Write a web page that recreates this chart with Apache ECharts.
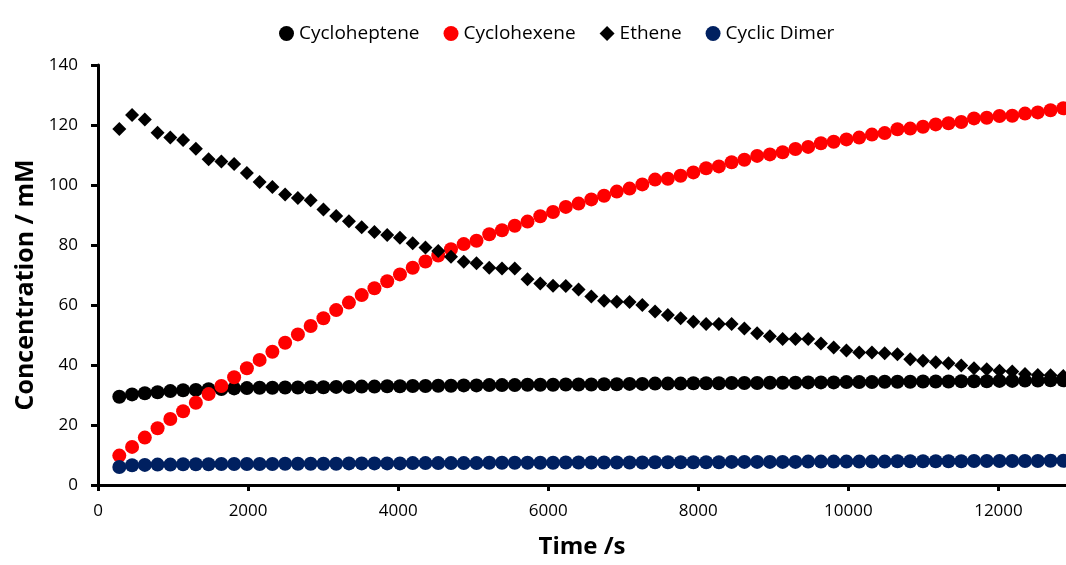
<!DOCTYPE html>
<html>
<head>
<meta charset="utf-8">
<style>
  html, body { margin: 0; padding: 0; background: #ffffff; }
  #chart { width: 1066px; height: 565px; }
</style>
<script src="https://cdn.jsdelivr.net/npm/echarts@6/dist/echarts.min.js"></script>
</head>
<body>
<div id="chart"></div>
<script>
// Sampling times (s)
const times = [284, 454, 624, 794, 964, 1134, 1304, 1474, 1644, 1814, 1984, 2154, 2324, 2494, 2664,
  2834, 3004, 3174, 3344, 3514, 3684, 3854, 4024, 4194, 4364, 4534, 4704, 4874, 5044, 5214,
  5384, 5554, 5724, 5894, 6064, 6234, 6404, 6574, 6744, 6914, 7084, 7254, 7424, 7594, 7764,
  7934, 8104, 8274, 8444, 8614, 8784, 8954, 9124, 9294, 9464, 9634, 9804, 9974, 10144, 10314,
  10484, 10654, 10824, 10994, 11164, 11334, 11504, 11674, 11844, 12014, 12184, 12354, 12524, 12694, 12864];

// Concentrations (mM)
const cycloheptene = [29.4, 30.2, 30.6, 30.9, 31.3, 31.6, 31.7, 31.9, 32.0, 32.2, 32.3, 32.4, 32.4, 32.5, 32.5,
  32.6, 32.6, 32.7, 32.7, 32.8, 32.8, 32.9, 32.9, 33.0, 33.0, 33.1, 33.1, 33.2, 33.2, 33.3,
  33.3, 33.3, 33.4, 33.4, 33.4, 33.5, 33.5, 33.5, 33.6, 33.6, 33.7, 33.7, 33.8, 33.8, 33.8,
  33.9, 33.9, 33.9, 34.0, 34.0, 34.0, 34.1, 34.1, 34.1, 34.2, 34.2, 34.2, 34.3, 34.3, 34.3,
  34.4, 34.4, 34.4, 34.5, 34.5, 34.5, 34.6, 34.6, 34.6, 34.7, 34.7, 34.8, 34.8, 34.9, 34.9];

const cyclohexene = [9.8, 12.7, 15.8, 18.9, 22.0, 24.6, 27.4, 30.3, 33.0, 35.9, 38.9, 41.7, 44.4, 47.4, 50.2,
  53.0, 55.6, 58.3, 60.8, 63.3, 65.6, 67.9, 70.2, 72.4, 74.5, 76.5, 78.6, 80.3, 81.4, 83.6,
  84.9, 86.4, 87.8, 89.6, 91.0, 92.7, 93.8, 95.2, 96.4, 97.8, 98.8, 100.2, 101.8, 102.1, 103.1,
  104.2, 105.6, 106.2, 107.6, 108.4, 109.7, 110.2, 110.9, 112.0, 112.7, 113.9, 114.4, 115.2, 115.8, 116.8,
  117.3, 118.6, 118.8, 119.4, 120.2, 120.6, 121.0, 122.2, 122.4, 123.0, 123.1, 123.8, 124.2, 124.9, 125.6];

const ethene = [118.7, 123.3, 121.8, 117.4, 115.8, 115.0, 112.1, 108.6, 107.8, 107.0, 104.0, 101.0, 99.3, 96.8, 95.7,
  94.9, 91.8, 89.7, 87.9, 85.9, 84.3, 83.3, 82.4, 80.6, 79.2, 78.0, 76.1, 74.4, 73.9, 72.4,
  72.2, 72.2, 68.6, 67.2, 66.4, 66.3, 65.2, 62.8, 61.4, 61.1, 61.0, 60.0, 57.8, 56.7, 55.6,
  54.4, 53.7, 53.7, 53.7, 52.2, 50.6, 49.6, 48.7, 48.7, 48.7, 47.2, 45.8, 44.8, 44.2, 44.2,
  43.9, 43.6, 41.9, 41.4, 40.9, 40.6, 39.8, 38.9, 38.6, 38.1, 37.8, 37.0, 36.7, 36.6, 36.3];

const cyclicDimer = [6.0, 6.6, 6.7, 6.8, 6.8, 6.9, 6.9, 6.9, 7.0, 7.0, 7.0, 7.0, 7.0, 7.1, 7.1,
  7.1, 7.1, 7.1, 7.2, 7.2, 7.2, 7.2, 7.2, 7.3, 7.3, 7.3, 7.3, 7.3, 7.3, 7.4,
  7.4, 7.4, 7.4, 7.4, 7.4, 7.5, 7.5, 7.5, 7.5, 7.5, 7.5, 7.5, 7.6, 7.6, 7.6,
  7.6, 7.6, 7.6, 7.7, 7.7, 7.7, 7.7, 7.7, 7.7, 7.8, 7.8, 7.8, 7.8, 7.8, 7.8,
  7.8, 7.9, 7.9, 7.9, 7.9, 7.9, 7.9, 8.0, 8.0, 8.0, 8.0, 8.0, 8.0, 8.1, 8.1];

const seriesNames = ['Cycloheptene', 'Cyclohexene', 'Ethene', 'Cyclic Dimer'];
const xTicks = [0, 2000, 4000, 6000, 8000, 10000, 12000];
const yTicks = [0, 20, 40, 60, 80, 100, 120, 140];

const FONT = '"Open Sans", "Noto Sans", sans-serif';

function pairs(values) {
  return times.map((t, i) => [t, values[i]]);
}

function scatter(name, values, color, symbol, size) {
  return {
    name: name,
    type: 'scatter',
    data: pairs(values),
    symbol: symbol,
    symbolSize: size,
    itemStyle: { color: color, opacity: 1 },
    emphasis: { disabled: true }
  };
}

const chart = echarts.init(document.getElementById('chart'), null, { renderer: 'canvas' });

chart.setOption({
  animation: false,
  backgroundColor: '#ffffff',
  textStyle: { fontFamily: FONT },
  legend: {
    top: 19,
    left: 274,
    itemWidth: 15,
    itemHeight: 15,
    itemGap: 24,
    textStyle: { fontFamily: FONT, fontSize: 19, color: '#000000' },
    data: [
      { name: seriesNames[0], icon: 'circle' },
      { name: seriesNames[1], icon: 'circle' },
      { name: seriesNames[2], icon: 'diamond' },
      { name: seriesNames[3], icon: 'circle' }
    ]
  },
  grid: { left: 98, right: 0, top: 65, bottom: 80, containLabel: false },
  xAxis: {
    type: 'value',
    min: 0,
    max: 12900,
    interval: 2000,
    name: 'Time /s',
    nameLocation: 'middle',
    nameGap: 50,
    nameTextStyle: { fontFamily: FONT, fontSize: 24, fontWeight: 'bold', color: '#000000' },
    axisLine: { show: true, onZero: false, lineStyle: { color: '#000000', width: 3 } },
    axisTick: { show: true, inside: false, length: 6, lineStyle: { color: '#000000', width: 3 } },
    axisLabel: {
      fontFamily: FONT, fontSize: 17, color: '#000000', margin: 18,
      showMaxLabel: false,
      formatter: v => (xTicks.indexOf(v) >= 0 ? String(v) : '')
    },
    splitLine: { show: false }
  },
  yAxis: {
    type: 'value',
    min: 0,
    max: 140,
    interval: 20,
    name: 'Concentration / mM',
    nameLocation: 'middle',
    nameRotate: 90,
    nameGap: 60,
    nameTextStyle: { fontFamily: FONT, fontSize: 25, fontWeight: 'bold', color: '#000000', padding: [0, 20, 0, 0] },
    axisLine: { show: true, lineStyle: { color: '#000000', width: 3 } },
    axisTick: { show: true, inside: false, length: 7, lineStyle: { color: '#000000', width: 3 } },
    axisLabel: {
      fontFamily: FONT, fontSize: 17, color: '#000000', margin: 20,
      formatter: v => (yTicks.indexOf(v) >= 0 ? String(v) : '')
    },
    splitLine: { show: false }
  },
  series: [
    scatter(seriesNames[0], cycloheptene, '#000000', 'circle', 14),
    scatter(seriesNames[1], cyclohexene, '#ff0000', 'circle', 14),
    scatter(seriesNames[2], ethene, '#000000', 'diamond', 14),
    scatter(seriesNames[3], cyclicDimer, '#002060', 'circle', 14)
  ]
});
</script>
</body>
</html>
